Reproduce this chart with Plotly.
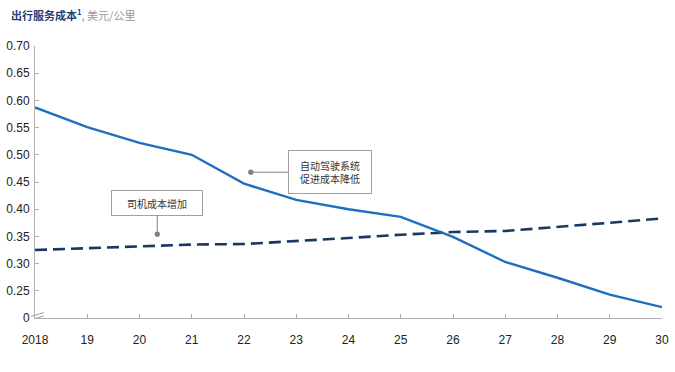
import plotly.graph_objects as go

years = list(range(2018, 2031))
x_labels = ["2018", "19", "20", "21", "22", "23", "24", "25", "26", "27", "28", "29", "30"]
autonomous_cost = [0.587, 0.551, 0.522, 0.500, 0.447, 0.417, 0.400, 0.386, 0.349, 0.303, 0.274, 0.243, 0.220]
driver_cost = [0.325, 0.328, 0.331, 0.335, 0.336, 0.341, 0.347, 0.353, 0.358, 0.360, 0.367, 0.375, 0.383]
y_tickvals = [0.20, 0.25, 0.30, 0.35, 0.40, 0.45, 0.50, 0.55, 0.60, 0.65, 0.70]
y_ticktext = ["0", "0.25", "0.30", "0.35", "0.40", "0.45", "0.50", "0.55", "0.60", "0.65", "0.70"]

font_family = "Liberation Sans, Arial, sans-serif"
cjk = "Noto Sans CJK SC, sans-serif"

fig = go.Figure()
fig.add_trace(go.Scatter(x=years, y=driver_cost, mode="lines",
                         line=dict(color="#1c3764", width=2.6, dash="12px,6px"),
                         showlegend=False, hoverinfo="skip"))
fig.add_trace(go.Scatter(x=years, y=autonomous_cost, mode="lines",
                         line=dict(color="#1f6fbf", width=2.4),
                         showlegend=False, hoverinfo="skip"))

fig.update_layout(
    width=675, height=372,
    margin=dict(l=34, r=6, t=46, b=54),
    paper_bgcolor="white", plot_bgcolor="white",
    font=dict(family=font_family, size=12, color="#222"),
    xaxis=dict(range=[2018, 2030], tickvals=years, ticktext=x_labels,
               showgrid=False, zeroline=False, showline=True, linecolor="#b0b0b0",
               linewidth=1, ticks="inside", ticklen=4, tickcolor="#b0b0b0",
               ticklabelstandoff=11, ticklabeloverflow="allow",
               tickfont=dict(size=12, color="#222")),
    yaxis=dict(range=[0.20, 0.70], tickvals=y_tickvals, ticktext=y_ticktext,
               showgrid=False, zeroline=False, showline=True, linecolor="#b0b0b0",
               linewidth=1, ticks="inside", ticklen=4, tickcolor="#b0b0b0",
               ticklabelstandoff=2,
               tickfont=dict(size=12, color="#222")),
    annotations=[
        dict(xref="paper", yref="paper", x=-0.041, y=1.0, xanchor="left", yanchor="bottom",
             yshift=21, showarrow=False,
             text="<b><span style='color:#1f3f7a'>出行服务成本<sup>1</sup></span></b><span style='color:#999'>, 美元/公里</span>",
             font=dict(family=cjk, size=11)),
        dict(x=2020.34, y=0.354, ax=0, ay=-31, text="司机成本增加",
             showarrow=True, arrowhead=6, arrowsize=1.3, arrowwidth=1, arrowcolor="#808080",
             bordercolor="#a0a0a0", borderwidth=1, borderpad=4, bgcolor="white",
             width=82, height=16, font=dict(family=cjk, size=10, color="#333")),
        dict(x=2022.13, y=0.468, ax=79, ay=0, text="自动驾驶系统<br>促进成本降低",
             showarrow=True, arrowhead=6, arrowsize=1.3, arrowwidth=1, arrowcolor="#808080",
             bordercolor="#a0a0a0", borderwidth=1, borderpad=4, bgcolor="white",
             width=74, height=34, font=dict(family=cjk, size=10, color="#333")),
    ],
    shapes=[
        dict(type="line", xref="paper", yref="y", x0=-0.006, x1=0.014, y0=0.203, y1=0.210,
             line=dict(color="#a0a0a0", width=1)),
        dict(type="line", xref="paper", yref="y", x0=-0.006, x1=0.014, y0=0.197, y1=0.204,
             line=dict(color="#a0a0a0", width=1)),
    ],
)

fig.write_html("out.html")
